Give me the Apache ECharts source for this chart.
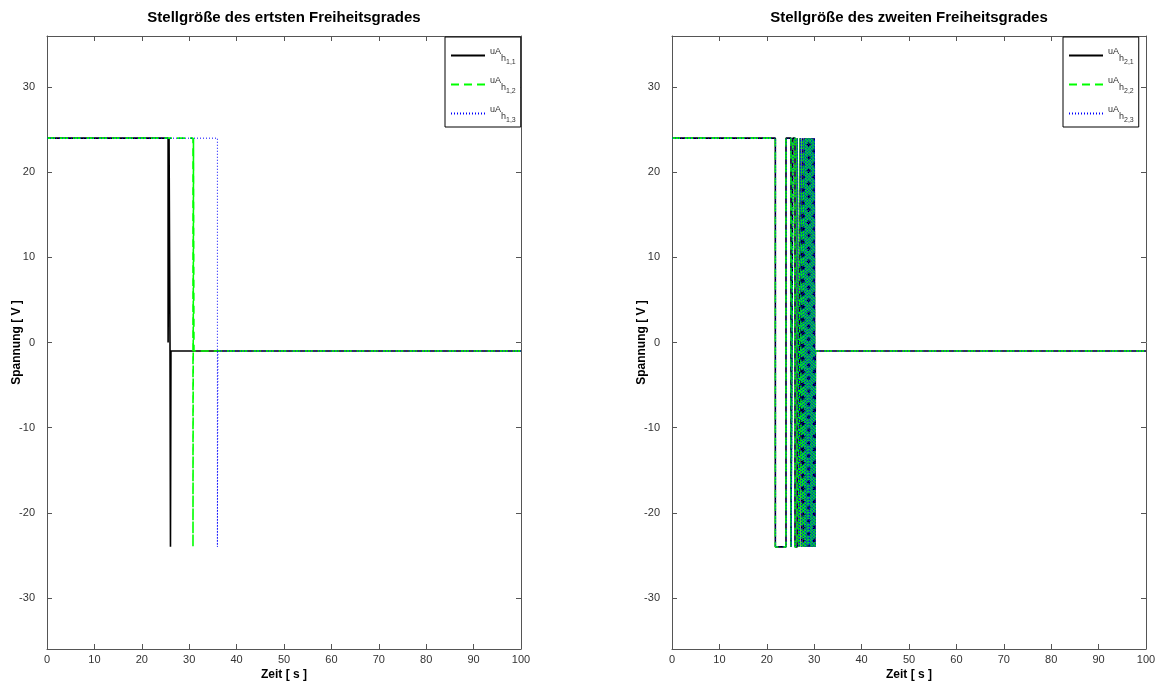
<!DOCTYPE html>
<html><head><meta charset="utf-8">
<script src="https://cdn.jsdelivr.net/npm/echarts@6/dist/echarts.min.js"></script>
<style>html,body{margin:0;padding:0;background:#fff}#c{width:1163px;height:686px}</style>
</head><body><div id="c"></div>
<script>
// ---- data ----
const xTickValues = [0,10,20,30,40,50,60,70,80,90,100];
const yTickValues = [-30,-20,-10,0,10,20,30];
const chartTitles = ['Stellgröße des ertsten Freiheitsgrades','Stellgröße des zweiten Freiheitsgrades'];
const xAxisName = 'Zeit [ s ]';
const yAxisName = 'Spannung [ V ]';
const leftNames = ['uA_h1,1','uA_h1,2','uA_h1,3'];
const rightNames = ['uA_h2,1','uA_h2,2','uA_h2,3'];

// left chart: step series (time at which value starts, value)
const l1Times = [0, 25.55, 25.75, 25.95, 26.05, 26.15, 100];
const l1Values = [24, 0, 24, 0, -24, -1, -1];
const l2Times = [0, 30.8, 30.9, 31.0, 100];
const l2Values = [24, -24, 24, -1, -1];
const l3Times = [0, 35.95, 36.05, 100];
const l3Values = [24, -24, -1, -1];

// right chart: chattering switching sequence
const rTimes = [0, 21.8, 24.05, 25.1, 25.5, 25.95, 26.4, 26.8, 27.05, 27.3, 27.5, 27.7, 27.9, 28.05, 28.2, 28.35, 28.5, 28.65, 28.8, 28.95, 29.1, 29.25, 29.4, 29.55, 29.7, 29.85, 30.0, 30.15, 30.25, 100];
const rValues = [24, -24, 24, -24, 24, -24, 24, -24, 24, -24, 24, -24, 24, -24, 24, -24, 24, -24, 24, -24, 24, -24, 24, -24, 24, -24, 24, -24, -1, -1];
const r3Times = [0, 21.85, 24.1, 25.15, 25.55, 26.0, 26.45, 26.85, 27.1, 27.35, 27.55, 27.75, 27.95, 28.1, 28.25, 28.4, 28.55, 28.7, 28.85, 29.0, 29.15, 29.3, 29.45, 29.6, 29.75, 29.9, 30.05, 30.2, 30.25, 100];

// ---- build ----
const zip = (t, v) => t.map((x, i) => [x, v[i]]);
const FONT = '"Liberation Sans", Arial, Helvetica, sans-serif';
const styles = [
  {color:'#000000', width:1.6, type:'solid'},
  {color:'#00ff00', width:1.6, type:[8,5]},
  {color:'#0000ff', width:1, type:[1,2]}
];
const grids = [
  {left:47, top:36, width:474, height:613, outerBoundsMode:'none', containLabel:false},
  {left:672, top:36, width:474, height:613, outerBoundsMode:'none', containLabel:false}
];

const xAxes = [], yAxes = [];
grids.forEach((g, gi) => {
  const common = {
    type:'value', gridIndex:gi, min:0, max:100, interval:10,
    axisLine:{show:true, onZero:false, lineStyle:{color:'#555', width:1}},
    axisTick:{show:true, inside:true, length:5, lineStyle:{color:'#555'}},
    splitLine:{show:false}
  };
  xAxes.push(Object.assign({}, common, {position:'bottom',
    axisLabel:{show:true, color:'#333', fontFamily:FONT, fontSize:11, margin:5},
    name:xAxisName, nameLocation:'middle', nameGap:20, nameMoveOverlap:false,
    nameTextStyle:{fontFamily:FONT, fontWeight:'bold', fontSize:12, color:'#000'}}));
  xAxes.push(Object.assign({}, common, {position:'top', axisLabel:{show:false}}));
  const ycommon = {
    type:'value', gridIndex:gi, min:-36, max:36,
    axisLine:{show:true, onZero:false, lineStyle:{color:'#555', width:1}},
    axisTick:{show:true, inside:true, length:5, customValues:yTickValues, lineStyle:{color:'#555'}},
    splitLine:{show:false}
  };
  yAxes.push(Object.assign({}, ycommon, {position:'left',
    axisLabel:{show:true, color:'#333', fontFamily:FONT, fontSize:11, margin:12, customValues:yTickValues},
    name:yAxisName, nameLocation:'middle', nameGap:24, nameMoveOverlap:false,
    nameTextStyle:{fontFamily:FONT, fontWeight:'bold', fontSize:12, color:'#000'}}));
  yAxes.push(Object.assign({}, ycommon, {position:'right', axisLabel:{show:false}}));
});

function mkSeries(name, data, si, gi) {
  return {
    name, type:'line', step:'end', data, xAxisIndex:gi*2, yAxisIndex:gi*2,
    showSymbol:false, symbol:'none', animation:false, silent:true,
    lineStyle:{color:styles[si].color, width:styles[si].width, type:styles[si].type},
    itemStyle:{color:styles[si].color}
  };
}
const series = [
  mkSeries(leftNames[0], zip(l1Times, l1Values), 0, 0),
  mkSeries(leftNames[1], zip(l2Times, l2Values), 1, 0),
  mkSeries(leftNames[2], zip(l3Times, l3Values), 2, 0),
  mkSeries(rightNames[0], zip(rTimes, rValues), 0, 1),
  mkSeries(rightNames[1], zip(rTimes, rValues), 1, 1),
  mkSeries(rightNames[2], zip(r3Times, rValues), 2, 1)
];

function legendFor(names, left) {
  return {
    data:names, orient:'vertical', left:left, top:37,
    itemWidth:34, itemHeight:12, itemGap:10,
    padding:[10,5,3,5],
    borderColor:'#000', borderWidth:1, backgroundColor:'#fff',
    selectedMode:false,
    itemStyle:{opacity:0},
    formatter: n => {
      const m = n.match(/^uA_h(\d,\d)$/);
      return '{a|uA}{b|h}{c|' + m[1] + '}';
    },
    textStyle:{
      fontFamily:FONT, color:'#333',
      rich:{
        a:{fontSize:9, fontFamily:FONT, color:'#333', padding:[0,0,8,0]},
        b:{fontSize:9, fontFamily:FONT, color:'#333', padding:[6,0,0,0]},
        c:{fontSize:7, fontFamily:FONT, color:'#333', padding:[14,0,0,0]}
      }
    }
  };
}

const option = {
  backgroundColor:'#fff',
  animation:false,
  grid: grids,
  xAxis: xAxes,
  yAxis: yAxes,
  legend:[legendFor(leftNames, 445), legendFor(rightNames, 1063)],
  series,
  graphic: chartTitles.map((t, i) => ({
    type:'text', x: grids[i].left + grids[i].width/2, y:10,
    style:{text:t, font:'bold 15px ' + FONT, fill:'#000', align:'center', textAlign:'center'}
  }))
};
const chart = echarts.init(document.getElementById('c'), null, {renderer:'canvas'});
chart.setOption(option);
</script></body></html>
